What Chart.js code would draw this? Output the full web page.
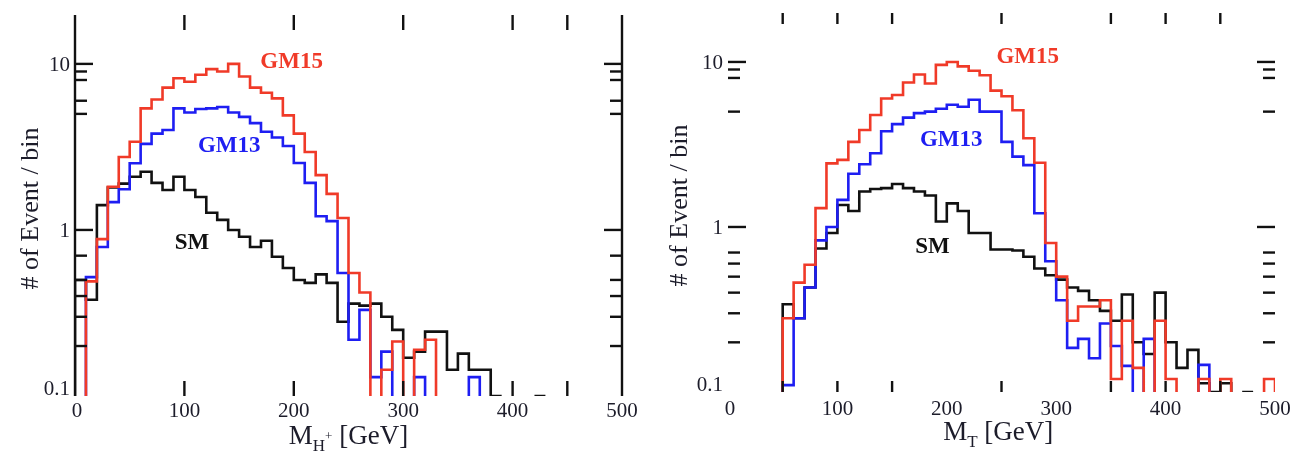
<!DOCTYPE html>
<html>
<head>
<meta charset="utf-8">
<script src="https://cdn.jsdelivr.net/npm/chart.js@4.4.1/dist/chart.umd.min.js"></script>
<style>
  html, body { margin: 0; padding: 0; background: #fff; }
  #wrap { position: relative; width: 1290px; height: 454px; }
  canvas { position: absolute; top: 0; }
  #left { left: 0; }
  #right { left: 645px; }
</style>
</head>
<body>
<div id="wrap">
  <canvas id="left" width="645" height="454"></canvas>
  <canvas id="right" width="645" height="454"></canvas>
</div>
<script>
// bin width 10 GeV, left edges of every bin
const binWidth = 10;
const leftBins = [0, 10, 20, 30, 40, 50, 60, 70, 80, 90, 100, 110, 120, 130, 140, 150, 160, 170, 180, 190,
  200, 210, 220, 230, 240, 250, 260, 270, 280, 290, 300, 310, 320, 330, 340, 350, 360, 370, 380, 390,
  400, 410, 420];
const rightBins = [50, 60, 70, 80, 90, 100, 110, 120, 130, 140, 150, 160, 170, 180, 190, 200, 210, 220, 230, 240,
  250, 260, 270, 280, 290, 300, 310, 320, 330, 340, 350, 360, 370, 380, 390, 400, 410, 420, 430, 440,
  450, 460, 470, 480, 490];

// left panel: M_H+  (null = empty bin)
const leftSM = [0.5, 0.38, 1.41, 1.8, 1.9, 2.09, 2.24, 1.92, 1.74, 2.09, 1.74, 1.58, 1.27, 1.15, 1.0, 0.91, 0.79, 0.86, 0.69, 0.59,
  0.5, 0.48, 0.54, 0.48, 0.28, 0.36, 0.35, 0.36, 0.3, 0.25, 0.17, 0.185, 0.244, 0.244, 0.144, 0.18, 0.144, 0.144, 0.1, null,
  null, null, 0.1];
const leftGM13 = [null, 0.52, 0.79, 1.47, 1.76, 2.52, 3.3, 3.8, 4.0, 5.4, 5.1, 5.35, 5.4, 5.5, 5.1, 4.8, 4.4, 3.9, 3.6, 3.2,
  2.53, 1.92, 1.21, 1.13, 0.55, 0.218, 0.33, 0.13, 0.185, null, null, 0.13, null, null, null, null, 0.13, null, null, null,
  null, null, null];
const leftGM15 = [null, 0.49, 0.88, 1.82, 2.75, 3.4, 5.4, 6.1, 7.2, 8.2, 7.8, 8.6, 9.3, 9.0, 10.0, 8.4, 7.2, 6.7, 6.2, 4.9,
  3.8, 2.95, 2.14, 1.65, 1.18, 0.55, 0.42, null, 0.144, 0.213, null, 0.19, 0.218, null, null, null, null, null, null, null,
  null, null, null];

// right panel: M_T
const rightSM = [0.34, 0.28, 0.43, 0.74, 0.92, 1.36, 1.25, 1.64, 1.7, 1.72, 1.82, 1.72, 1.64, 1.55, 1.08, 1.39, 1.25, 0.92, 0.92, 0.73,
  0.73, 0.72, 0.66, 0.56, 0.51, 0.48, 0.43, 0.41, 0.36, 0.31, 0.27, 0.39, 0.2, 0.17, 0.4, 0.2, 0.14, 0.18, 0.113, 0.1,
  0.113, null, 0.1, null, null];
const rightGM13 = [0.11, 0.28, 0.43, 0.83, 1.0, 1.46, 2.1, 2.4, 2.8, 3.8, 4.2, 4.6, 4.9, 5.0, 5.2, 5.5, 5.35, 5.9, 5.0, 5.0,
  3.28, 2.67, 2.37, 1.21, 0.62, 0.36, 0.185, 0.21, 0.16, 0.26, 0.19, 0.144, null, 0.21, null, null, null, null, 0.146, null,
  null, null, null, null, null];
const rightGM15 = [0.28, 0.46, 0.59, 1.3, 2.43, 2.55, 3.28, 3.87, 4.77, 6.0, 6.3, 7.5, 8.4, 7.4, 9.6, 10.0, 9.4, 8.85, 8.3, 6.7,
  6.2, 5.1, 3.45, 2.45, 0.8, 0.5, 0.27, 0.33, 0.33, 0.36, 0.12, 0.27, 0.14, null, 0.27, 0.12, null, null, 0.12, null,
  0.12, null, null, null, 0.12];

// axis ticks and labels
const xLabels = [0, 100, 200, 300, 400, 500];
const yLabels = [0.1, 1, 10];
const yMajorTicks = [1, 10];
const leftYMinor = [0.2, 0.3, 0.4, 0.5, 0.7, 5, 6, 8, 9];
const rightYMinor = [0.2, 0.3, 0.4, 0.5, 0.6, 0.7, 5, 8, 9];
const leftXTicks = [100, 200, 300, 400, 450];
const rightXTicks = [50, 100, 150, 250, 350, 400, 450];

const RED = '#f03a28', BLUE = '#1e1ef2', BLACK = '#111111';
const SERIF = '"Liberation Serif", "DejaVu Serif", serif';

// turn bins into a step outline; empty bins break the line and drop to the floor
function histPoints(starts, values, floor) {
  const pts = [];
  for (let i = 0; i < values.length; i++) {
    const v = values[i];
    if (v === null) continue;
    const lo = starts[i], hi = starts[i] + binWidth;
    const prevEmpty = i === 0 || values[i - 1] === null;
    const nextEmpty = i === values.length - 1 || values[i + 1] === null;
    if (prevEmpty) pts.push({ x: lo, y: floor });
    pts.push({ x: lo, y: v }, { x: hi, y: v });
    if (nextEmpty) {
      pts.push({ x: hi, y: floor });
      pts.push({ x: hi, y: null });
    }
  }
  return pts;
}

const framePlugin = {
  id: 'frame',
  afterDraw(chart, args, o) {
    const ctx = chart.ctx;
    const xs = chart.scales.x, ys = chart.scales.y;
    const X = v => xs.getPixelForValue(v);
    const Y = v => ys.getPixelForValue(v);
    const top = chart.chartArea.top, bottom = chart.chartArea.bottom;
    const x0 = X(0), x1 = X(500);
    ctx.save();
    ctx.strokeStyle = BLACK;
    ctx.lineWidth = 2.4;
    ctx.lineCap = 'butt';
    function seg(ax, ay, bx, by) {
      ctx.beginPath(); ctx.moveTo(ax, ay); ctx.lineTo(bx, by); ctx.stroke();
    }
    if (o.sideLines) {
      seg(x0, top, x0, bottom);
      seg(x1, top, x1, bottom);
    }
    yMajorTicks.forEach(v => {
      seg(x0, Y(v), x0 + o.majorLen, Y(v));
      seg(x1 - o.majorLen, Y(v), x1, Y(v));
    });
    o.yMinor.forEach(v => {
      seg(x0, Y(v), x0 + o.minorLen, Y(v));
      seg(x1 - o.minorLen, Y(v), x1, Y(v));
    });
    o.xTicks.forEach(v => {
      seg(X(v), top, X(v), top + o.xTickLen);
      seg(X(v), bottom, X(v), bottom - o.xTickLen);
    });

    // tick labels
    ctx.fillStyle = '#1c1c2a';
    ctx.font = '21px ' + SERIF;
    ctx.textBaseline = 'alphabetic';
    ctx.textAlign = 'right';
    yLabels.forEach(v => {
      const dy = v === 0.1 ? -1 : 7;
      ctx.fillText(String(v), x0 - 5, Y(v) + dy);
    });
    ctx.textAlign = 'center';
    xLabels.forEach(v => {
      ctx.fillText(String(v), X(v) + (v === 0 ? 2 : 0), bottom + o.xLabelDy);
    });

    // y title
    ctx.save();
    ctx.translate(x0 - o.yTitleDx, (top + bottom) / 2 + 3);
    ctx.rotate(-Math.PI / 2);
    ctx.font = '26px ' + SERIF;
    ctx.textAlign = 'center';
    ctx.fillText('# of Event / bin', 0, 8);
    ctx.restore();

    // x title: M with subscript
    const big = '27px ' + SERIF, small = '17px ' + SERIF, tiny = '13px ' + SERIF;
    ctx.textAlign = 'left';
    ctx.font = big; const wM = ctx.measureText('M').width;
    ctx.font = small; const wS = ctx.measureText(o.sub).width;
    ctx.font = tiny; const wP = o.sup ? ctx.measureText(o.sup).width : 0;
    ctx.font = big; const wG = ctx.measureText(' [GeV]').width;
    let tx = X(o.titleAt) - (wM + wS + wP + wG) / 2;
    const base = bottom + 48;
    ctx.font = big; ctx.fillText('M', tx, base); tx += wM;
    ctx.font = small; ctx.fillText(o.sub, tx, base + 7); tx += wS;
    if (o.sup) { ctx.font = tiny; ctx.fillText(o.sup, tx, base - 4); tx += wP; }
    ctx.font = big; ctx.fillText(' [GeV]', tx, base);

    // series names
    ctx.font = 'bold 23px ' + SERIF;
    ctx.textAlign = 'center';
    o.names.forEach(n => {
      ctx.fillStyle = n.color;
      ctx.fillText(n.text, X(n.x), Y(n.y) + 8);
    });
    ctx.restore();
  }
};

function makePanel(id, bins, sm, gm13, gm15, yMax, pad, frame) {
  const yMin = 0.1;
  const line = (label, data, color) => ({
    label: label,
    data: histPoints(bins, data, yMin),
    borderColor: color,
    borderWidth: 2.6,
    pointRadius: 0,
    tension: 0,
    fill: false,
    spanGaps: false
  });
  return new Chart(document.getElementById(id), {
    type: 'line',
    data: {
      datasets: [
        line('GM15', gm15, RED),
        line('GM13', gm13, BLUE),
        line('SM', sm, BLACK)
      ]
    },
    options: {
      responsive: false,
      animation: false,
      layout: { padding: pad },
      scales: {
        x: { type: 'linear', min: 0, max: 500, bounds: 'data', display: false },
        y: { type: 'logarithmic', min: yMin, max: yMax, bounds: 'data', display: false }
      },
      plugins: {
        legend: { display: false },
        tooltip: { enabled: false },
        frame: frame
      }
    },
    plugins: [framePlugin]
  });
}

makePanel('left', leftBins, leftSM, leftGM13, leftGM15, 19.7,
  { left: 75, right: 23, top: 15, bottom: 58 },
  {
    sideLines: true, majorLen: 18, minorLen: 12, xTickLen: 15,
    yMinor: leftYMinor, xTicks: leftXTicks, xLabelDy: 21, yTitleDx: 45,
    sub: 'H', sup: '+', titleAt: 250,
    names: [
      { text: 'GM15', color: RED, x: 198, y: 10.6 },
      { text: 'GM13', color: BLUE, x: 141, y: 3.3 },
      { text: 'SM', color: BLACK, x: 107, y: 0.86 }
    ]
  });

makePanel('right', rightBins, rightSM, rightGM13, rightGM15, 19.8,
  { left: 83, right: 15, top: 13, bottom: 62 },
  {
    sideLines: false, majorLen: 18, minorLen: 12, xTickLen: 11,
    yMinor: rightYMinor, xTicks: rightXTicks, xLabelDy: 23, yTitleDx: 49,
    sub: 'T', sup: '', titleAt: 247,
    names: [
      { text: 'GM15', color: RED, x: 274, y: 11.0 },
      { text: 'GM13', color: BLUE, x: 204, y: 3.46 },
      { text: 'SM', color: BLACK, x: 187, y: 0.78 }
    ]
  });
</script>
</body>
</html>
